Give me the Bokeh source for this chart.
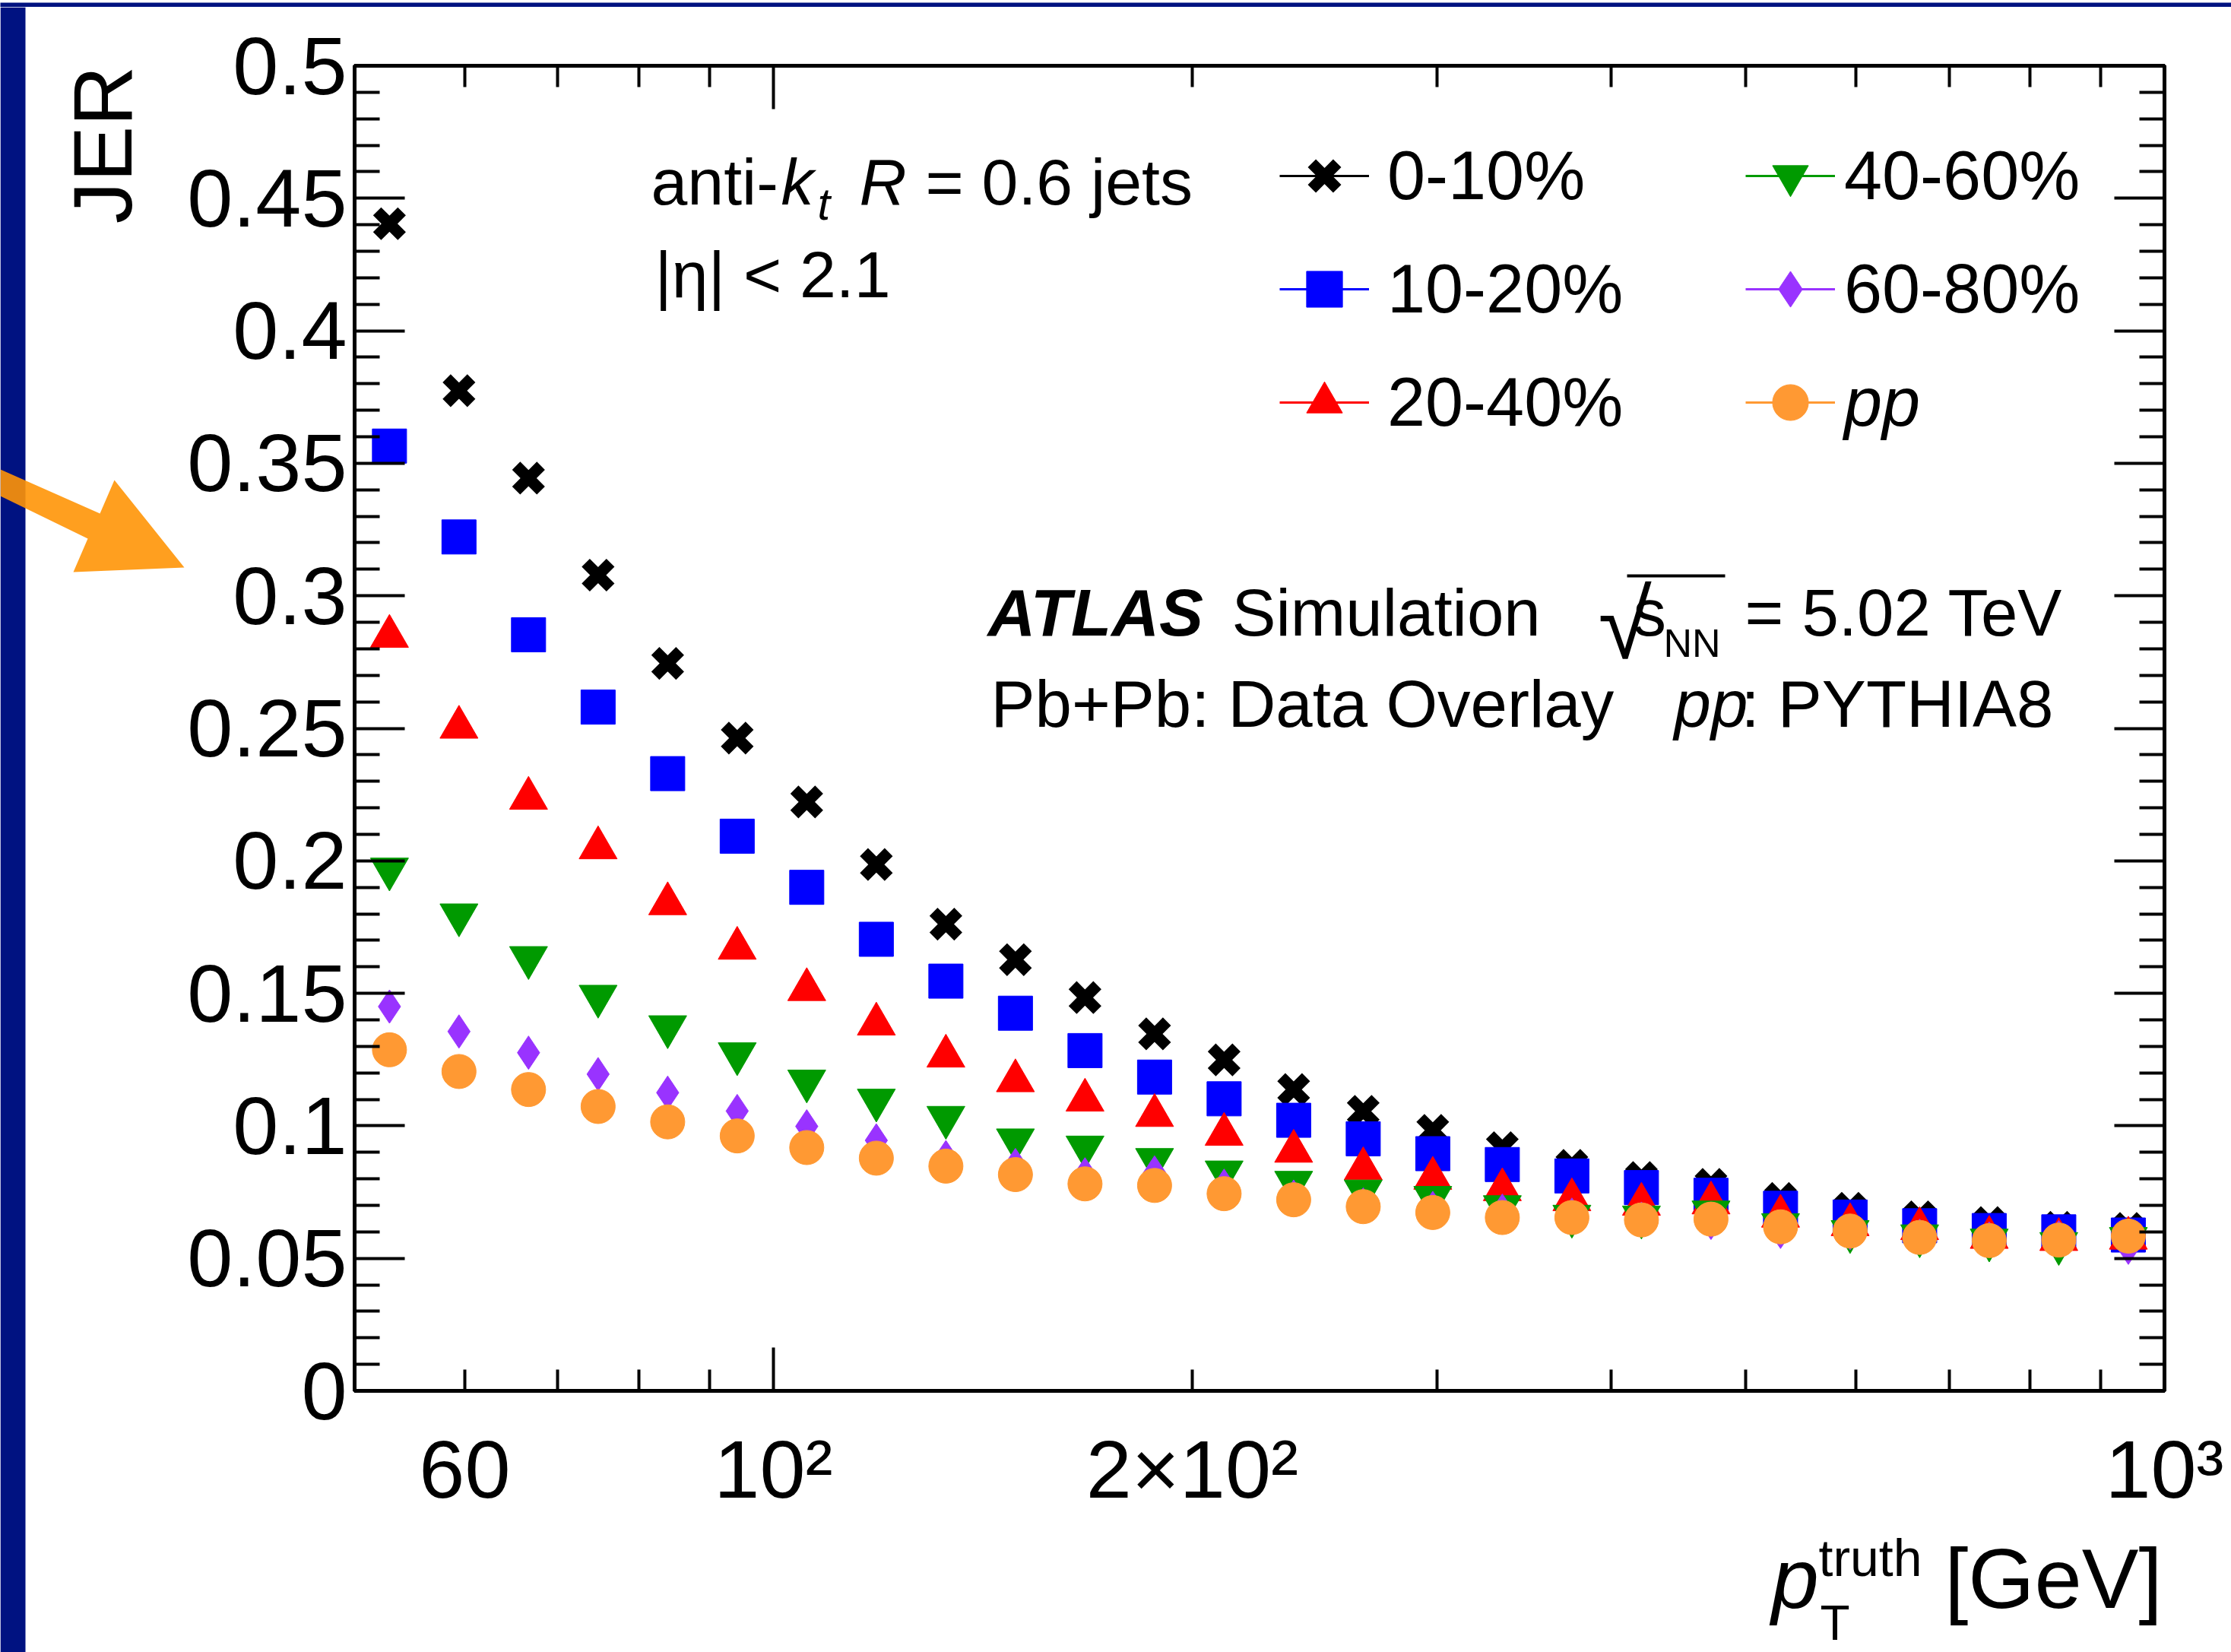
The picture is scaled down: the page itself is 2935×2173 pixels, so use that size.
import numpy as np
from bokeh.plotting import figure
from bokeh.layouts import column, row
from bokeh.models import (ColumnDataSource, LinearAxis, LogAxis, FixedTicker,
                          Legend, LegendItem, Label, PolyAnnotation, Range1d)
from bokeh.embed import file_html
from bokeh.resources import INLINE

FONT = "Liberation Sans"

# ---------------- data ----------------
pt_truth = [52.97, 59.43, 66.68, 74.82, 83.95, 94.19, 105.68, 118.58, 133.05,
            149.28, 167.50, 187.94, 210.87, 236.60, 265.47, 297.86, 334.20,
            374.98, 420.73, 472.07, 529.67, 594.30, 666.82, 748.19, 839.48, 941.92]

jer_0_10 = [0.4404, 0.3774, 0.3444, 0.3078, 0.2745, 0.2463, 0.2222, 0.1986, 0.1761,
            0.1627, 0.1484, 0.1347, 0.1249, 0.1137, 0.1055, 0.0983, 0.0918, 0.0851,
            0.0805, 0.0779, 0.0726, 0.0689, 0.0657, 0.0635, 0.0617, 0.0613]
jer_10_20 = [0.3565, 0.3222, 0.2853, 0.2580, 0.2329, 0.2093, 0.1900, 0.1704, 0.1546,
             0.1425, 0.1284, 0.1184, 0.1102, 0.1021, 0.0951, 0.0895, 0.0854, 0.0811,
             0.0767, 0.0738, 0.0689, 0.0656, 0.0623, 0.0605, 0.0600, 0.0588]
jer_20_40 = [0.2847, 0.2504, 0.2236, 0.2049, 0.1838, 0.1670, 0.1514, 0.1384, 0.1263,
             0.1170, 0.1097, 0.1039, 0.0968, 0.0904, 0.0838, 0.0802, 0.0759, 0.0721,
             0.0704, 0.0709, 0.0659, 0.0627, 0.0612, 0.0579, 0.0571, 0.0576]
jer_40_60 = [0.1969, 0.1796, 0.1635, 0.1489, 0.1374, 0.1272, 0.1169, 0.1097, 0.1032,
             0.0947, 0.0920, 0.0873, 0.0826, 0.0787, 0.0754, 0.0730, 0.0695, 0.0659,
             0.0656, 0.0675, 0.0627, 0.0601, 0.0585, 0.0569, 0.0556, 0.0575]
jer_60_80 = [0.1450, 0.1356, 0.1276, 0.1195, 0.1125, 0.1056, 0.0998, 0.0945, 0.0882,
             0.0852, 0.0817, 0.0824, 0.0774, 0.0733, 0.0703, 0.0690, 0.0680, 0.0665,
             0.0650, 0.0634, 0.0600, 0.0595, 0.0585, 0.0575, 0.0580, 0.0540]
jer_pp = [0.1287, 0.1205, 0.1137, 0.1073, 0.1015, 0.0962, 0.0918, 0.0878, 0.0848,
          0.0816, 0.0781, 0.0775, 0.0744, 0.0721, 0.0695, 0.0673, 0.0654, 0.0654,
          0.0645, 0.0648, 0.0619, 0.0603, 0.0579, 0.0567, 0.0569, 0.0584]

series_labels = ["0-10%", "10-20%", "20-40%", "40-60%", "60-80%", "pp"]

x_tick_values = [60, 100, 200, 1000]
x_tick_labels = ["60", "10\u00b2", "2\u00d710\u00b2", "10\u00b3"]
x_major_ticks = [100, 1000]
x_minor_ticks = [60, 70, 80, 90, 200, 300, 400, 500, 600, 700, 800, 900]
y_tick_values = [0.0, 0.05, 0.1, 0.15, 0.2, 0.25, 0.3, 0.35, 0.4, 0.45, 0.5]
y_tick_labels = ["0", "0.05", "0.1", "0.15", "0.2", "0.25", "0.3", "0.35", "0.4", "0.45", "0.5"]
y_minor_ticks = [round(0.01 * i, 2) for i in range(1, 50) if i % 5]

# ---------------- page geometry (canvas pixels) ----------------
W, H = 2935, 2173
STRIP_T = 9            # blue strip at top
LEFT_W = 243           # decoration column at left (blue strip, arrow, y title)
MAIN_BOT = 2010        # canvas y where the main figure ends
FL, FR, FT, FB = 466, 2847, 86, 1829   # plot frame in canvas pixels
XMIN, XMAX = 50.0, 1000.0
YMIN, YMAX = 0.0, 0.5
BLUE = "#001281"
SHIFT = 0.37           # baseline correction (fraction of font size)


def bare_fig(w, h, xr, yr, bg="white"):
    f = figure(width=w, height=h, title=None, x_range=xr, y_range=yr,
               x_axis_location=None, y_axis_location=None,
               min_border_left=0, min_border_right=0, min_border_top=0,
               min_border_bottom=0, output_backend="svg", toolbar_location=None,
               background_fill_color=bg, border_fill_color=bg,
               outline_line_color=None)
    f.grid.visible = False
    return f


# ---------------- main figure ----------------
main_w, main_h = W - LEFT_W, MAIN_BOT - STRIP_T
p = figure(width=main_w, height=main_h, title=None, x_axis_type="log",
           x_range=(XMIN, XMAX), y_range=(YMIN, YMAX),
           x_axis_location=None, y_axis_location=None,
           min_border_left=FL - LEFT_W, min_border_right=W - FR,
           min_border_top=FT - STRIP_T, min_border_bottom=MAIN_BOT - FB,
           output_backend="svg", toolbar_location=None,
           background_fill_color="white", border_fill_color="white",
           outline_line_color="black", outline_line_width=5)
p.grid.visible = False


def style_axis(ax, major_in, minor_in, hidden_ticks=None):
    ax.axis_line_color = "black"
    ax.axis_line_width = 5
    ax.major_tick_in = major_in
    ax.major_tick_out = 0
    ax.minor_tick_in = minor_in
    ax.minor_tick_out = 0
    ax.major_tick_line_color = "black"
    ax.minor_tick_line_color = "black"
    ax.major_tick_line_width = 4
    ax.minor_tick_line_width = 4
    if hidden_ticks is not None:
        ax.major_label_overrides = {v: "" for v in hidden_ticks}
        ax.major_label_text_font_size = "1px"
        ax.major_label_standoff = 0


xticker = FixedTicker(ticks=x_major_ticks, minor_ticks=x_minor_ticks)
yticker = FixedTicker(ticks=y_tick_values, minor_ticks=y_minor_ticks)

ax_b = LogAxis(ticker=xticker)
style_axis(ax_b, 57, 28, x_major_ticks)
p.add_layout(ax_b, "below")

ax_bl = LogAxis(ticker=FixedTicker(ticks=x_tick_values, minor_ticks=[]))
ax_bl.axis_line_color = None
ax_bl.major_tick_line_color = None
ax_bl.minor_tick_line_color = None
ax_bl.major_tick_in = 0
ax_bl.major_tick_out = 0
ax_bl.major_label_overrides = {v: s for v, s in zip(x_tick_values, x_tick_labels)}
ax_bl.major_label_text_font = FONT
ax_bl.major_label_text_font_size = "108px"
ax_bl.major_label_text_color = "black"
ax_bl.major_label_standoff = 42
p.add_layout(ax_bl, "below")

ax_t = LogAxis(ticker=xticker)
style_axis(ax_t, 57, 28, x_major_ticks)
p.add_layout(ax_t, "above")

ax_l = LinearAxis(ticker=yticker)
style_axis(ax_l, 66, 33)
ax_l.major_label_overrides = {v: s for v, s in zip(y_tick_values, y_tick_labels)}
ax_l.major_label_text_font = FONT
ax_l.major_label_text_font_size = "108px"
ax_l.major_label_text_color = "black"
ax_l.major_label_standoff = 10
p.add_layout(ax_l, "left")

ax_r = LinearAxis(ticker=yticker)
style_axis(ax_r, 66, 33, y_tick_values)
p.add_layout(ax_r, "right")

# ---------------- series ----------------
styles = [
    dict(marker="x", size=46, color="#000000", lw=15),
    dict(marker="square", size=45, color="#0000FF", lw=1),
    dict(marker="triangle", size=50, color="#FF0000", lw=1),
    dict(marker="inverted_triangle", size=50, color="#009A00", lw=1),
    dict(marker="diamond", size=44, color="#9933FF", lw=1),
    dict(marker="circle", size=45, color="#FF9933", lw=1),
]
values = [jer_0_10, jer_10_20, jer_20_40, jer_40_60, jer_60_80, jer_pp]

items = []
for lab, vals, st in zip(series_labels, values, styles):
    src = ColumnDataSource(dict(x=pt_truth, y=vals))
    r = p.scatter("x", "y", source=src, marker=st["marker"], size=st["size"],
                  fill_color=st["color"], line_color=st["color"], line_width=st["lw"])
    lsrc = ColumnDataSource(dict(x=[pt_truth[0]], y=[-1.0]))
    lr = p.line("x", "y", source=lsrc, line_color=st["color"], line_width=3)
    items.append(LegendItem(label=lab, renderers=[lr, r]))

GW = 118
SP = 31


def make_legend(its, gx, top, standoff, style="normal"):
    n = len(its)
    h = n * GW + (n - 1) * SP
    leg = Legend(items=its, location=(gx - FL, FB - (top + h)),
                 glyph_width=GW, glyph_height=GW, label_standoff=standoff,
                 spacing=SP, padding=0, margin=0,
                 border_line_color=None, background_fill_alpha=0,
                 label_text_font=FONT, label_text_font_size="90px",
                 label_text_font_style=style, label_text_color="black")
    p.add_layout(leg)


LEG_TOP = 172
make_legend(items[0:3], 1683, LEG_TOP, 24)
make_legend(items[3:5], 2296, LEG_TOP, 12)
make_legend(items[5:6], 2296, LEG_TOP + 2 * (GW + SP), 12, "italic")


# ---------------- texts inside the frame (canvas px -> offsets) ----------------
def add_text(text, px, py, size, style="normal", align="left"):
    py = py - SHIFT * size
    p.add_layout(Label(x=XMIN, y=YMAX, x_units="data", y_units="data",
                       x_offset=px - FL, y_offset=FT - py, text=text,
                       text_font=FONT, text_font_size=f"{size}px",
                       text_font_style=style, text_align=align,
                       text_baseline="alphabetic", text_color="black"))


add_text("anti-", 856, 270, 86)
add_text("k", 1027, 270, 86, "italic")
add_text("t", 1075, 290, 60, "italic")
add_text("R", 1130, 270, 86, "italic")
add_text("= 0.6 jets", 1217, 270, 86)
add_text("|\u03b7| < 2.1", 861, 392, 86)

add_text("ATLAS", 1299, 837, 87, "bold italic")
add_text("Simulation", 1620, 837, 87)
add_text("\u221a", 2102, 868, 128)
add_text("s", 2148, 837, 87)
add_text("NN", 2188, 865, 52)
add_text("= 5.02 TeV", 2295, 837, 87)
add_text("Pb+Pb: Data Overlay", 1303, 957, 87)
add_text("pp", 2202, 957, 87, "italic")
add_text(": PYTHIA8", 2290, 957, 87)


def dx(px):
    return XMIN * 10 ** ((px - FL) / (FR - FL) * np.log10(XMAX / XMIN))


def dy(py):
    return YMAX - (py - FT) / (FB - FT) * (YMAX - YMIN)


# overbar of the square root
p.add_layout(PolyAnnotation(xs=[dx(2140), dx(2269), dx(2269), dx(2140)],
                            ys=[dy(755), dy(755), dy(759), dy(759)],
                            fill_color="black", fill_alpha=1.0, line_color=None,
                            level="overlay"))

# ---------------- top blue strip ----------------
top = bare_fig(W, STRIP_T, Range1d(0, W), Range1d(STRIP_T, 0), bg=BLUE)

# ---------------- left column: blue strip, arrow, y title ----------------
left = bare_fig(LEFT_W, H - STRIP_T, Range1d(0, LEFT_W), Range1d(H, STRIP_T))
left.add_layout(PolyAnnotation(xs=[0, 33, 33, 0], ys=[STRIP_T, STRIP_T, H, H],
                               fill_color=BLUE, fill_alpha=1.0, line_color=None))
arrow_x = [0, 131, 150, 242, 96, 115, 0]
arrow_y = [617, 675, 631, 746, 752, 708, 652]
left.add_layout(PolyAnnotation(xs=arrow_x, ys=arrow_y, fill_color="#FF9507",
                               fill_alpha=0.9, line_color=None))
left.add_layout(Label(x=175 - SHIFT * 110, y=86, text="JER", text_font=FONT,
                      text_font_size="110px", text_align="right",
                      text_baseline="alphabetic", angle=np.pi / 2, text_color="black"))

# ---------------- bottom strip: x title ----------------
# (its frame is aligned with the main frame by the column layout)
bottom = bare_fig(W - LEFT_W, H - MAIN_BOT, Range1d(FL, FR), Range1d(H, MAIN_BOT))


def add_btext(text, px, py, size, style="normal", align="left"):
    bottom.add_layout(Label(x=px, y=py - SHIFT * size, text=text, text_font=FONT,
                            text_font_size=f"{size}px", text_font_style=style,
                            text_align=align, text_baseline="alphabetic",
                            text_color="black"))


add_btext("p", 2330, 2117, 112, "italic")
add_btext("truth", 2392, 2074, 68)
add_btext("T", 2394, 2158, 64)
add_btext("[GeV]", 2844, 2117, 112, align="right")

layout = column(top, row(left, column(p, bottom)))
open("out.html", "w").write(file_html(layout, INLINE))
